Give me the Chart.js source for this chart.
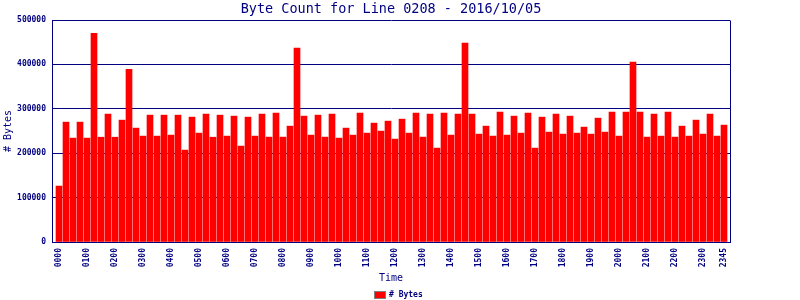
<!DOCTYPE html>
<html><head><meta charset="utf-8">
<script src="https://cdn.jsdelivr.net/npm/chart.js@4/dist/chart.umd.min.js"></script>
<style>html,body{margin:0;padding:0;background:#fff}#wrap{width:800px;height:300px}</style>
</head><body><div id="wrap"><canvas id="c" width="800" height="300"></canvas></div>
<script>
const chartTitle = 'Byte Count for Line 0208 - 2016/10/05';
const seriesName = '# Bytes';
const xTitle = 'Time';

const times = [
  '0000','0015','0030','0045','0100','0115','0130','0145','0200','0215','0230','0245',
  '0300','0315','0330','0345','0400','0415','0430','0445','0500','0515','0530','0545',
  '0600','0615','0630','0645','0700','0715','0730','0745','0800','0815','0830','0845',
  '0900','0915','0930','0945','1000','1015','1030','1045','1100','1115','1130','1145',
  '1200','1215','1230','1245','1300','1315','1330','1345','1400','1415','1430','1445',
  '1500','1515','1530','1545','1600','1615','1630','1645','1700','1715','1730','1745',
  '1800','1815','1830','1845','1900','1915','1930','1945','2000','2015','2030','2045',
  '2100','2115','2130','2145','2200','2215','2230','2245','2300','2315','2330','2345'
];

const bytes = [
  126000,270000,234000,270000,234000,470000,236000,288000,236000,274500,389000,256500,
  238500,285750,238500,285750,240750,285750,207000,281250,245250,288000,236000,285750,
  238500,283500,216000,281250,238500,288000,236250,290250,236250,261000,436500,283500,
  240750,285750,236250,288000,234000,256500,240750,290250,245250,267750,249750,272250,
  231750,276750,245250,290250,236250,288000,211500,290250,240750,288000,447750,288000,
  243000,261000,238500,292500,240750,283500,245250,290250,211500,281250,247500,288000,
  243000,283500,245250,258750,243000,279000,247500,292500,238500,292500,405000,292500,
  236250,288000,238500,292500,236250,261000,238500,274500,243000,288000,238500,263250
];

const shownTicks = ['0000','0100','0200','0300','0400','0500','0600','0700','0800','0900',
  '1000','1100','1200','1300','1400','1500','1600','1700','1800','1900','2000','2100',
  '2200','2300','2345'];

const yTicks = [0,100000,200000,300000,400000,500000];

const NAVY = '#000080';
const MONO = '"DejaVu Sans Mono", "Liberation Mono", monospace';

const framePlugin = {
  id: 'frame',
  afterDraw(chart) {
    const {ctx, chartArea: a} = chart;
    ctx.save();
    ctx.strokeStyle = NAVY;
    ctx.lineWidth = 1;
    ctx.beginPath();
    ctx.moveTo(Math.round(a.right) + 0.5, a.top + 0.5);
    ctx.lineTo(Math.round(a.right) + 0.5, a.bottom + 0.5);
    ctx.stroke();
    // title
    ctx.fillStyle = NAVY;
    ctx.font = '13.5px ' + MONO;
    ctx.textAlign = 'center';
    ctx.textBaseline = 'alphabetic';
    ctx.fillText(chartTitle, (a.left + a.right) / 2, 13);
    // legend
    ctx.fillStyle = '#ff0000';
    ctx.fillRect(374, 291, 12, 8);
    ctx.strokeStyle = '#808080';
    ctx.strokeRect(374.5, 291.5, 11, 7);
    ctx.fillStyle = NAVY;
    ctx.font = 'bold 8px ' + MONO;
    ctx.textAlign = 'left';
    ctx.textBaseline = 'middle';
    ctx.fillText(seriesName, 389, 295);
    ctx.restore();
  }
};

new Chart(document.getElementById('c'), {
  type: 'bar',
  data: {
    datasets: [{
      label: seriesName,
      data: bytes.map((v, i) => ({x: i, y: v})),
      backgroundColor: '#ff0000',
      borderWidth: 0,
      barThickness: 6
    }]
  },
  options: {
    responsive: false,
    animation: false,
    devicePixelRatio: 1,
    layout: {padding: {top: 20, right: 70, left: 0, bottom: 14}},
    plugins: {legend: {display: false}, title: {display: false}, tooltip: {enabled: false}},
    scales: {
      x: {
        type: 'linear', min: -1, max: 95 + 6 / 7, offset: false,
        grid: {display: false, drawTicks: false},
        border: {color: NAVY, width: 1},
        afterBuildTicks: s => { s.ticks = shownTicks.map(l => ({value: times.indexOf(l)})); },
        ticks: {
          autoSkip: false, minRotation: 90, maxRotation: 90, padding: 6,
          font: {family: MONO, size: 8, weight: 'bold'}, color: NAVY,
          callback: v => times[v]
        },
        title: {display: true, text: xTitle, color: NAVY, font: {family: MONO, size: 10}, padding: {top: 0, bottom: 2}},
        afterFit: s => { s.height = 44; }
      },
      y: {
        min: 0, max: 500000,
        afterBuildTicks: s => { s.ticks = yTicks.map(v => ({value: v})); },
        ticks: {padding: 6, font: {family: MONO, size: 8, weight: 'bold'}, color: NAVY, callback: v => String(v)},
        grid: {color: NAVY, lineWidth: 1, drawTicks: false},
        border: {color: NAVY, width: 1},
        title: {display: true, text: seriesName, color: NAVY, font: {family: MONO, size: 10}, padding: {top: 2, bottom: 0}},
        afterFit: s => { s.width = 52; }
      }
    }
  },
  plugins: [framePlugin]
});
</script></body></html>
